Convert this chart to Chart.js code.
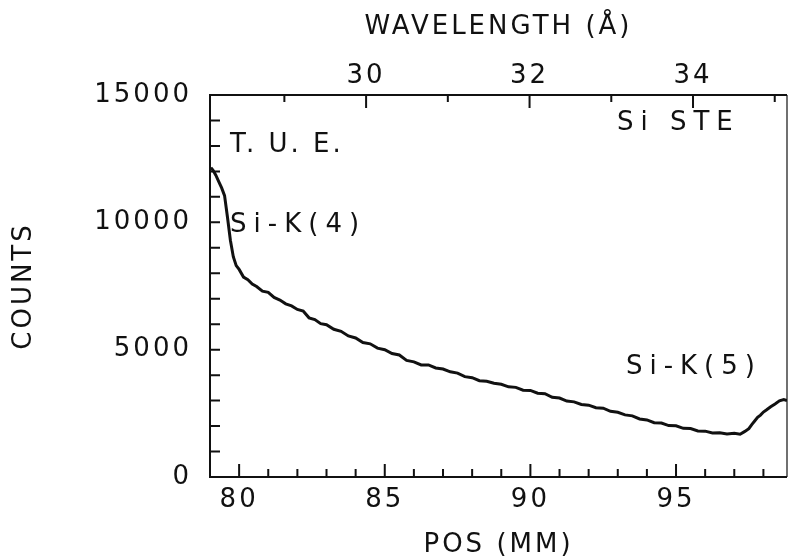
<!DOCTYPE html>
<html lang="en">
<head>
    <meta charset="UTF-8">
    <title>Si STE - T.U.E.</title>
    <script src="https://cdn.jsdelivr.net/npm/chart.js"></script>
    <style>
        body {
            margin: 0;
            background-color: white;
        }
        #chartContainer {
            width: 790px;
            height: 557px;
        }
    </style>
</head>
<body>

<div id="chartContainer">
    <canvas id="spectrumChart" width="790" height="557"></canvas>
</div>

<script>
    // values
    const posMM = [
        79.03, 79.1, 79.2, 79.3, 79.4, 79.5, 79.6, 79.7, 79.8, 79.9,
        80.0, 80.15, 80.3, 80.45, 80.6, 80.8, 81.0, 81.2, 81.4, 81.6,
        81.8, 82.0, 82.2, 82.4, 82.6, 82.8, 83.0, 83.25, 83.5, 83.75,
        84.0, 84.25, 84.5, 84.75, 85.0, 85.25, 85.5, 85.75, 86.0, 86.25,
        86.5, 86.75, 87.0, 87.25, 87.5, 87.75, 88.0, 88.25, 88.5, 88.75,
        89.0, 89.25, 89.5, 89.75, 90.0, 90.25, 90.5, 90.75, 91.0, 91.25,
        91.5, 91.75, 92.0, 92.25, 92.5, 92.75, 93.0, 93.25, 93.5, 93.75,
        94.0, 94.25, 94.5, 94.75, 95.0, 95.25, 95.5, 95.75, 96.0, 96.25,
        96.5, 96.75, 97.0, 97.2, 97.35, 97.5, 97.6, 97.7, 97.8, 97.9,
        98.0, 98.1, 98.25, 98.4, 98.55, 98.7, 98.81
    ];
    const counts = [
        12150, 12050, 11850, 11600, 11350, 11050, 10200, 9300, 8650, 8300,
        8150, 7850, 7750, 7580, 7480, 7300, 7250, 7050, 6950, 6800,
        6720, 6580, 6520, 6250, 6180, 6020, 5980, 5800, 5720, 5540,
        5460, 5280, 5230, 5060, 5000, 4850, 4790, 4580, 4520, 4400,
        4400, 4280, 4240, 4130, 4080, 3940, 3900, 3780, 3760, 3680,
        3640, 3540, 3520, 3410, 3400, 3290, 3270, 3130, 3100, 2980,
        2950, 2850, 2820, 2720, 2700, 2580, 2540, 2440, 2400, 2280,
        2240, 2130, 2120, 2020, 2010, 1910, 1900, 1810, 1800, 1730,
        1740, 1690, 1720, 1680, 1780, 1900, 2060, 2200, 2340, 2430,
        2550, 2630, 2760, 2870, 2990, 3040, 3000
    ];

    const posTicks = [80, 85, 90, 95];
    const countTicks = [0, 5000, 10000, 15000];
    const wavelengthTicks = [30, 32, 34];

    const notes = [
        { text: 'T. U. E.', x: 79.69, y: 13040 },
        { text: 'Si STE', x: 92.97, y: 13900 },
        { text: 'Si-K(4)', x: 79.69, y: 9896 },
        { text: 'Si-K(5)', x: 93.28, y: 4320 }
    ];

    const FONT = "'DejaVu Sans', sans-serif";
    const SPACING = '3px';

    // plotter look: inward ticks, frame and lettering
    const plotterPlugin = {
        id: 'plotter',
        beforeUpdate(chart) { chart.ctx.letterSpacing = SPACING; },
        beforeDraw(chart) { chart.ctx.letterSpacing = SPACING; },
        afterDraw(chart) {
            const ctx = chart.ctx;
            const a = chart.chartArea;
            const x = chart.scales.x, y = chart.scales.y, w = chart.scales.w;
            ctx.save();
            ctx.strokeStyle = '#111';
            ctx.lineWidth = 2;
            ctx.beginPath();
            ctx.moveTo(a.right, a.top);
            ctx.lineTo(a.left, a.top);
            ctx.lineTo(a.left, a.bottom);
            ctx.lineTo(a.right, a.bottom);
            ctx.stroke();
            ctx.lineWidth = 1.2;
            ctx.beginPath();
            ctx.moveTo(a.right, a.top);
            ctx.lineTo(a.right, a.bottom);
            ctx.stroke();

            ctx.lineWidth = 2;
            ctx.beginPath();
            for (let v = 80; v <= 98; v++) {
                const px = x.getPixelForValue(v);
                const len = v % 5 === 0 ? 13 : 8;
                ctx.moveTo(px, a.bottom);
                ctx.lineTo(px, a.bottom - len);
            }
            for (let v = 1000; v < 15000; v += 1000) {
                const py = y.getPixelForValue(v);
                ctx.moveTo(a.left, py);
                ctx.lineTo(a.left + 10, py);
            }
            for (let v = 29; v <= 35; v++) {
                const px = w.getPixelForValue(v);
                const len = v % 2 === 0 ? 13 : 7;
                ctx.moveTo(px, a.top);
                ctx.lineTo(px, a.top + len);
            }
            ctx.stroke();

            ctx.fillStyle = '#111';
            ctx.font = '26px ' + FONT;
            ctx.textAlign = 'left';
            ctx.textBaseline = 'middle';
            notes.forEach(n => {
                // the plotter letters sit on a fixed pitch, wider than the font
                ctx.letterSpacing = n.text.startsWith('Si') ? '7px' : SPACING;
                ctx.fillText(n.text, x.getPixelForValue(n.x), y.getPixelForValue(n.y));
            });
            ctx.restore();
        }
    };

    const tickFont = { family: FONT, size: 26 };
    const titleFont = { family: FONT, size: 26, lineHeight: 1.2 };

    const ctx1 = document.getElementById('spectrumChart').getContext('2d');
    const chart = new Chart(ctx1, {
        type: 'line',
        data: {
            datasets: [{
                data: posMM.map((p, i) => ({ x: p, y: counts[i] })),
                borderColor: '#111',
                borderWidth: 3,
                pointRadius: 0,
                tension: 0,
                fill: false
            }]
        },
        options: {
            responsive: false,
            animation: false,
            layout: { padding: { left: 0, right: 3, top: 0, bottom: 0 } },
            plugins: {
                legend: { display: false },
                tooltip: { enabled: false }
            },
            scales: {
                x: {
                    type: 'linear',
                    position: 'bottom',
                    min: 79,
                    max: 98.81,
                    afterBuildTicks: s => { s.ticks = posTicks.map(v => ({ value: v })); },
                    afterFit: s => { s.height = 80; },
                    grid: { display: false },
                    border: { display: false },
                    ticks: { color: '#111', font: tickFont, padding: 0, maxRotation: 0, callback: v => String(v) },
                    title: { display: true, text: 'POS (MM)', color: '#111', font: { family: FONT, size: 26, lineHeight: 0.9 }, padding: { top: 0, bottom: 0 } }
                },
                w: {
                    type: 'linear',
                    position: 'top',
                    min: 28.09,
                    max: 35.15,
                    afterBuildTicks: s => { s.ticks = wavelengthTicks.map(v => ({ value: v })); },
                    afterFit: s => { s.height = 95; },
                    grid: { display: false },
                    border: { display: false },
                    ticks: { color: '#111', font: tickFont, padding: -5, maxRotation: 0, callback: v => String(v) },
                    title: { display: true, text: 'WAVELENGTH (Å)', color: '#111', font: titleFont, padding: { top: 12, bottom: 0 } }
                },
                y: {
                    type: 'linear',
                    position: 'left',
                    min: 0,
                    max: 15000,
                    afterBuildTicks: s => { s.ticks = countTicks.map(v => ({ value: v })); },
                    afterFit: s => { s.width = 210; },
                    grid: { display: false },
                    border: { display: false },
                    ticks: { color: '#111', font: tickFont, padding: 10, callback: v => String(v) },
                    title: { display: true, text: 'COUNTS', color: '#111', font: titleFont, padding: { top: 9, bottom: 0 } }
                }
            }
        },
        plugins: [plotterPlugin]
    });
</script>

</body>
</html>
